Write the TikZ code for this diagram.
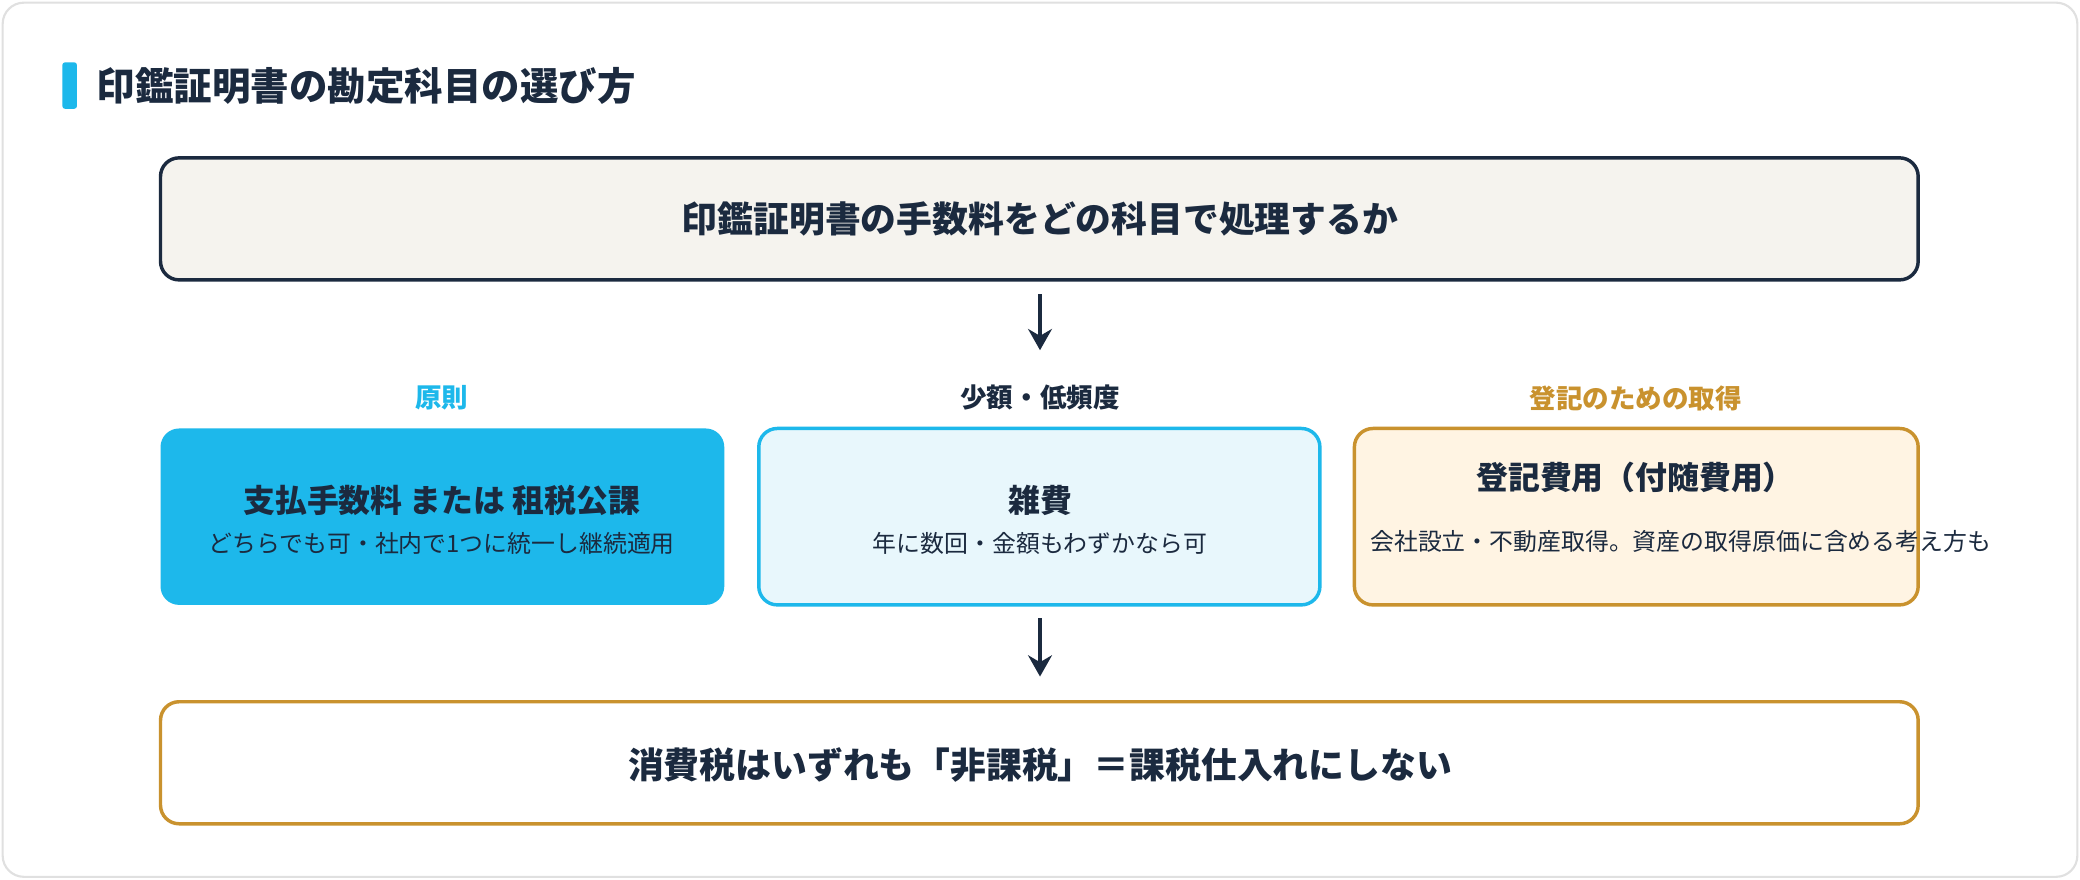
\documentclass[tikz,border=0pt]{standalone}
\usepackage{fontspec}
\usetikzlibrary{arrows.meta}
\setmainfont{Noto Sans CJK JP}
\definecolor{navy}{HTML}{1B2A3F}
\definecolor{sky}{HTML}{1DB8EB}
\definecolor{gold}{HTML}{C9922E}
\definecolor{paper}{HTML}{F5F3EE}
\definecolor{ice}{HTML}{E8F7FC}
\definecolor{cream}{HTML}{FFF4E3}
\tikzset{
  box/.style={rounded corners=7pt,line width=1.3pt},
  lab/.style={font=\bfseries\fontsize{10}{12}\selectfont},
  big/.style={font=\bfseries\fontsize{13.5}{16}\selectfont,text=navy},
  head/.style={font=\bfseries\fontsize{12}{14}\selectfont,text=navy,align=center},
  sub/.style={font=\fontsize{9}{12.5}\selectfont,text=navy,align=center,text width=205pt},
  arr/.style={-{Stealth[length=8pt,width=9pt]},line width=1.2pt,navy}
}
\begin{document}
\begin{tikzpicture}[x=0.5pt,y=-0.5pt]
\useasboundingbox (0,0) rectangle (1568,663);
\draw[rounded corners=8pt,draw=black!12,fill=white,line width=0.8pt] (2,2) rectangle (1566,661);
% title
\fill[sky,rounded corners=1pt] (47,47) rectangle (58,82);
\node[anchor=west,font=\bfseries\fontsize{14.5}{17}\selectfont,text=navy] (title) at (66,65) {印鑑証明書の勘定科目の選び方};
% question
\draw[box,draw=navy,fill=paper] (121,119) rectangle (1446,211);
\node[big] (q) at (784,165) {印鑑証明書の手数料をどの科目で処理するか};
\coordinate (a1) at (784,222);
\coordinate (a2) at (784,264);
\draw[arr] (a1) -- (a2);
% cases
\node[lab,text=sky] (l1) at (333,300) {原則};
\node[lab,text=navy] (l2) at (784,300) {少額・低頻度};
\node[lab,text=gold] (l3) at (1233,300) {登記のための取得};
\fill[sky,rounded corners=7pt] (121,323) rectangle (546,456);
\draw[box,draw=sky,fill=ice] (572,323) rectangle (995,456);
\draw[box,draw=gold,fill=cream] (1021,323) rectangle (1446,456);
\node[head] (h1) at (333,377) {支払手数料 または 租税公課};
\node[sub] (s1) at (333,410) {どちらでも可・社内で1つに統一し継続適用};
\node[head] (h2) at (784,377) {雑費};
\node[sub] (s2) at (784,410) {年に数回・金額もわずかなら可};
\node[head] (h3) at (1233,360) {登記費用（付随費用）};
\node[sub,text width=200pt] (s3) at (1233,408) {会社設立・不動産取得。資産の取得原価に含める考え方も};
\coordinate (b1) at (784,466);
\coordinate (b2) at (784,510);
\draw[arr] (b1) -- (b2);
% result
\draw[box,draw=gold,fill=white] (121,529) rectangle (1446,621);
\node[big] (r) at (784,577) {消費税はいずれも「非課税」＝課税仕入れにしない};
\end{tikzpicture}
\end{document}
